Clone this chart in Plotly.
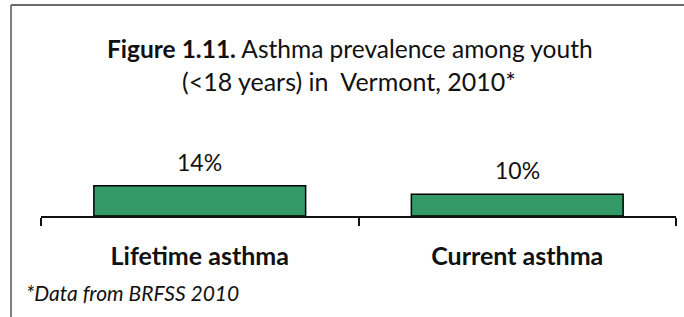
import plotly.graph_objects as go

categories = ["Lifetime asthma", "Current asthma"]
values = [14, 10]
value_labels = ["14%", "10%"]
title_line1 = "<b>Figure 1.11.</b> Asthma prevalence among youth"
title_line2 = "(<18 years) in  Vermont, 2010*"
footnote = "*Data from BRFSS 2010"

FONT = "Lato"

fig = go.Figure()
fig.add_trace(go.Bar(
    x=categories, y=values,
    marker=dict(color="#339966", line=dict(color="#000000", width=1.5)),
    width=0.667,
    hoverinfo="skip",
))

for c, v, t in zip(categories, values, value_labels):
    fig.add_annotation(x=c, y=v, text=t, showarrow=False, yanchor="middle",
                       yshift=24, font=dict(family=FONT, size=23, color="#111"))

fig.add_annotation(x=0.4866, y=1.292, xref="paper", yref="paper", text=title_line1,
                   showarrow=False, xanchor="center", yanchor="middle",
                   font=dict(family=FONT, size=24.5, color="#111"))
fig.add_annotation(x=0.485, y=1.035, xref="paper", yref="paper", text=title_line2,
                   showarrow=False, xanchor="center", yanchor="middle",
                   font=dict(family=FONT, size=25, color="#111"))
fig.add_annotation(x=-0.027, y=-0.592, xref="paper", yref="paper", text="<i>" + footnote + "</i>",
                   showarrow=False, xanchor="left", yanchor="middle",
                   font=dict(family=FONT, size=21, color="#111"))

# border (left and top)
fig.add_shape(type="line", xref="paper", yref="paper", x0=-0.04724, x1=1.2, y0=1.623, y1=1.623,
              line=dict(color="#3a3a3a", width=1.3))
fig.add_shape(type="line", xref="paper", yref="paper", x0=-0.04724, x1=-0.04724, y0=1.623, y1=-1.0,
              line=dict(color="#3a3a3a", width=1.3))

fig.update_layout(
    width=684, height=317,
    margin=dict(l=41, r=8, t=86, b=101),
    paper_bgcolor="white", plot_bgcolor="white",
    showlegend=False,
    xaxis=dict(showline=True, linecolor="#111", linewidth=1.5, ticks="outside",
               tickson="boundaries", ticklen=8, tickcolor="#111", tickwidth=1.5,
               tickfont=dict(family=FONT, size=25, color="#111", weight="bold"),
               ticklabelstandoff=17, showgrid=False, zeroline=False, fixedrange=True),
    yaxis=dict(range=[0, 60], visible=False, showgrid=False, fixedrange=True),
)

fig.write_html("out.html", config={"displayModeBar": False},
               post_script="document.body.style.margin='0px';document.body.style.overflow='hidden';")
